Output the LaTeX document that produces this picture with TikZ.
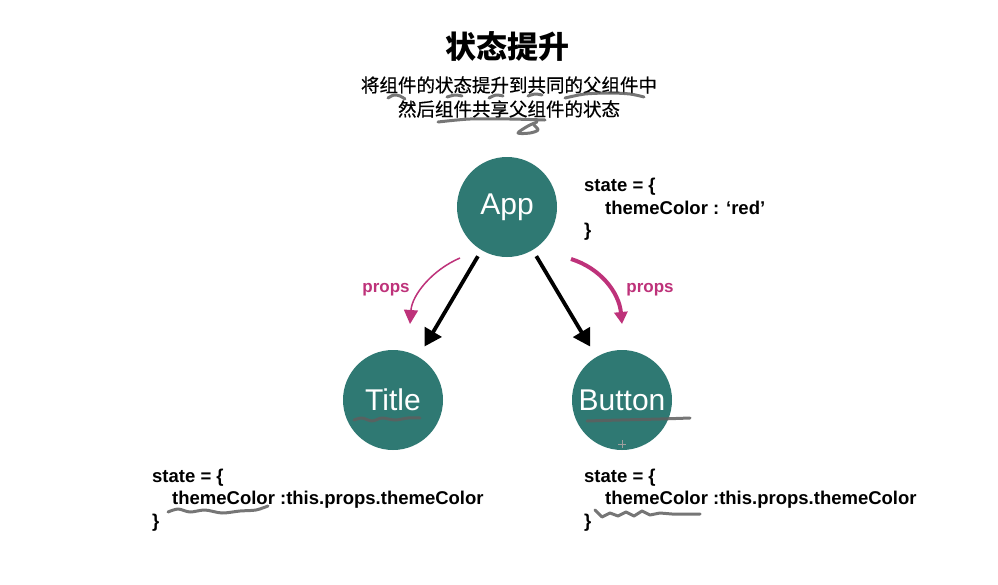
\documentclass[tikz,border=0pt]{standalone}
\usepackage{fontspec}
\setmainfont{Liberation Sans}
\newfontfamily\cjk{Noto Sans CJK SC}
\newfontfamily\cjkm{Noto Sans CJK SC}[FakeBold=0.6]
\usetikzlibrary{arrows.meta}
\definecolor{teal1}{RGB}{47,121,115}
\definecolor{pinkc}{RGB}{190,50,122}
\definecolor{scribc}{RGB}{95,95,95}
\tikzset{
  comp/.style={circle, fill=teal1, minimum size=100pt, inner sep=0pt, text=white, font=\fontsize{30}{30}\selectfont},
  bigarrow/.style={line width=3.8pt, -{Triangle[length=17pt,width=19pt]}},
  pinkthin/.style={pinkc, line width=1.5pt, -{Triangle[length=14pt,width=14pt]}},
  pinkthick/.style={pinkc, line width=4pt, -{Triangle[length=12pt,width=13pt]}},
  proplbl/.style={text=pinkc, font=\bfseries\fontsize{17}{17}\selectfont},
  code/.style={anchor=base west, inner sep=0pt, font=\bfseries\fontsize{18.5}{18.5}\selectfont},
  scrib/.style={scribc, opacity=0.85, line width=3pt, line cap=round, line join=round},
}
\begin{document}
\begin{tikzpicture}[x=1pt,y=-1pt]
\useasboundingbox[fill=white] (0,0) rectangle (998,584);

% headings
\node[font=\cjk\bfseries\fontsize{31}{31}\selectfont] (head) at (507,47) {状态提升};
\node[font=\cjkm\fontsize{18.5}{18.5}\selectfont] (sub1) at (509,85) {将组件的状态提升到共同的父组件中};
\node[font=\cjkm\fontsize{18.5}{18.5}\selectfont] (sub2) at (509,109) {然后组件共享父组件的状态};

% scribbles on headings
\draw[scrib] plot[smooth] coordinates {(388,98) (394,95) (400,96) (405,99)};
\draw[scrib] plot[smooth] coordinates {(447,97) (455,95) (462,96)};
\draw[scrib] plot[smooth] coordinates {(489,98) (496,95) (503,96)};
\draw[scrib] plot[smooth] coordinates {(528,96) (535,94) (542,95)};
\draw[scrib] plot[smooth] coordinates {(565,98) (585,94) (610,93) (630,94) (644,97)};
\draw[scrib] plot[smooth] coordinates {(438,122) (470,119) (510,119) (545,120)};
\draw[scrib] plot[smooth] coordinates {(537,122) (528,126) (518,133) (530,133) (538,130) (534,125)};

% components
\node[comp] (app) at (507,207) {App};
\node[comp] (title) at (393,400) {Title};
\node[comp] (button) at (622,400) {Button};

% black arrows
\draw[bigarrow, shorten <=7pt, shorten >=12pt] (app) -- (title);
\draw[bigarrow, shorten <=7pt, shorten >=12pt] (app) -- (button);

% props arrows
\coordinate (pl1) at (460,258);
\coordinate (pl2) at (410,324);
\coordinate (pr1) at (571,259);
\coordinate (pr2) at (622,324);
\draw[pinkthin] (pl1) .. controls (432,270) and (412,295) .. (pl2);
\draw[pinkthick] (pr1) .. controls (600,268) and (619,292) .. (pr2);
\node[proplbl] (propl) at (386,290) {props};
\node[proplbl] (propr) at (650,290) {props};

% state code blocks
\node[code] (a1) at (584,191) {state = \{};
\node[code] (a2) at (605,214) {themeColor : ‘red’};
\node[code] (a3) at (584,236) {\}};

\node[code] (l1) at (152,482) {state = \{};
\node[code] (l2) at (172,504) {themeColor :this.props.themeColor};
\node[code] (l3) at (152,527) {\}};

\node[code] (r1) at (584,482) {state = \{};
\node[code] (r2) at (605,504) {themeColor :this.props.themeColor};
\node[code] (r3) at (584,527) {\}};

% scribbles on nodes / code
\draw[scrib] plot[smooth] coordinates {(354,420) (362,418) (372,421) (382,418) (395,420) (408,418) (420,418)};
\draw[scrib] plot[smooth] coordinates {(587,421) (620,420) (660,419) (690,418)};
\draw[scrib] plot[smooth] coordinates {(168,512) (178,509) (190,512) (205,510) (222,513) (240,511) (256,510) (268,506)};
\draw[scrib] plot coordinates {(595,510) (602,517) (610,513) (618,516) (626,512) (634,516) (642,511) (650,515) (660,513) (672,514) (700,514)};

% cursor
\draw[scribc!60, line width=0.8pt] (618,444) -- (626,444) (622,440) -- (622,448);
\end{tikzpicture}
\end{document}
